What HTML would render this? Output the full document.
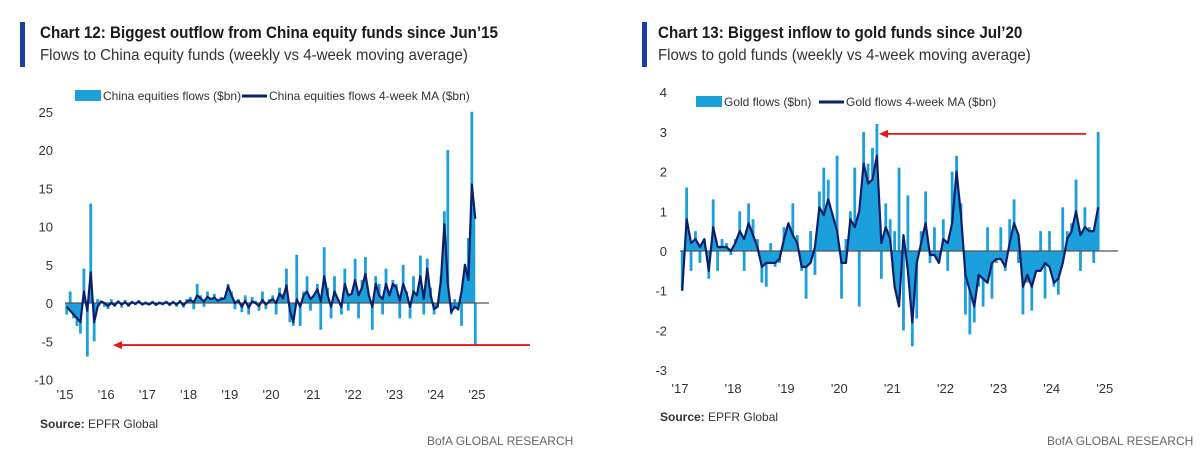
<!DOCTYPE html>
<html><head><meta charset="utf-8"><style>
body{margin:0;width:1200px;height:454px;background:#fff;font-family:"Liberation Sans",sans-serif;overflow:hidden;position:relative}
.bar{position:absolute;width:5px;background:#1a3fa0;top:22px;height:45px}
.t{position:absolute;font-weight:bold;font-size:16.5px;color:#1a1a1a;transform:scaleX(0.92);transform-origin:left top;white-space:nowrap}
.s{position:absolute;font-size:15.5px;color:#333;transform:scaleX(0.97);transform-origin:left top;white-space:nowrap}
.src{position:absolute;font-size:12px;color:#333}
.bofa{position:absolute;font-size:12px;color:#666;top:434px}
svg{position:absolute;left:0;top:0}
</style></head><body>
<div class="bar" style="left:20px"></div>
<div class="t" style="left:40px;top:24px">Chart 12: Biggest outflow from China equity funds since Jun’15</div>
<div class="s" style="left:40px;top:47px">Flows to China equity funds (weekly vs 4-week moving average)</div>
<div class="bar" style="left:642px"></div>
<div class="t" style="left:658px;top:24px">Chart 13: Biggest inflow to gold funds since Jul’20</div>
<div class="s" style="left:658px;top:47px">Flows to gold funds (weekly vs 4-week moving average)</div>
<div class="src" style="left:40px;top:417px"><b>Source:</b> EPFR Global</div>
<div class="src" style="left:660px;top:410px"><b>Source:</b> EPFR Global</div>
<div class="bofa" style="left:427px">BofA GLOBAL RESEARCH</div>
<div class="bofa" style="left:1047px">BofA GLOBAL RESEARCH</div>
<svg width="1200" height="454" id="svg"></svg>
<script>
const chinaYears=["'15","'16","'17","'18","'19","'20","'21","'22","'23","'24","'25"];
const chinaTicks=[25,20,15,10,5,0,-5,-10];
const chinaFlows=[-1.5,1.5,-2,-3,-4,4.5,-7,13,-5,0.5,0.3,-0.5,
-0.8,0.5,-0.5,0.3,-0.6,0.4,-0.5,0.3,-0.3,0.4,-0.3,0.2,
-0.3,0.3,-0.4,0.2,-0.3,0.3,-0.4,0.3,-0.5,0.4,-0.6,0.5,
0.8,-0.8,2.5,1.0,-0.5,1.5,0.6,1.2,0.3,0.8,0.5,2.5,
1.5,-0.8,0.5,-1.2,1.0,-1.5,0.8,0.3,-1.0,1.5,-0.8,0.5,
1.0,-1.5,2.0,1.2,4.5,-2.5,-3,6.3,-3,1.5,3.5,-1.0,
1.0,2.5,-3.5,7.3,2.0,-2.0,3.5,0.5,-1.5,4.5,-1.0,1.0,
5.8,-2.0,3.0,6.0,1.0,-3.5,3.5,2.5,-1.5,4.5,0.5,3.0,
2.5,-2.0,5.0,1.5,-2.0,3.5,1.0,6.2,-1.5,5.8,2.0,-1.5,
-0.5,3.5,12,20,-1.5,0.5,-1.0,-3.0,5.0,8.5,25,-5.5];
const chinaMA=[-0.5,-1,-1.5,-2,-2.5,1.5,-1,4,-2.5,-0.5,0.2,0,
-0.4,0,-0.3,0.2,-0.2,0.1,-0.3,0.1,-0.1,0.2,-0.2,0,
-0.2,0.1,-0.2,0,-0.1,0.1,-0.2,0.1,-0.2,0.2,-0.3,0.2,
0.4,0.1,1.0,0.6,0.2,0.8,0.5,0.7,0.3,0.5,0.6,2.2,
1.0,0,0.3,-0.5,0.3,-0.6,0.2,0,-0.4,0.4,-0.2,0.2,
0.5,0,1.2,0.6,2.3,-1.0,-2.5,0.5,-0.5,1.0,1.5,0.5,
1.0,1.8,0.2,3.5,1.0,-0.5,1.5,0.5,-0.5,2.5,1.0,1.2,
3.0,1.0,2.0,3.8,1.0,-0.5,2.5,1.0,0.5,2.5,1.0,2.5,
2.0,0.3,2.5,1.2,-0.5,1.5,1.0,3.5,0.5,4.5,1.0,-0.8,
-0.5,3.0,10.3,2.5,-1.2,-0.5,-0.8,1.5,5.0,3.0,15.5,11];
const goldYears=["'17","'18","'19","'20","'21","'22","'23","'24","'25"];
const goldTicks=[4,3,2,1,0,-1,-2,-3];
const goldFlows=[-1.0,1.6,-0.5,0.5,-0.3,0.3,-0.7,1.3,-0.5,0.3,0.2,-0.1,
0.3,1.0,-0.5,1.2,0.8,0.3,-0.8,-0.9,0.2,-0.4,-0.3,0.6,
0.5,1.2,0.4,-0.5,-1.2,0.5,-0.6,1.5,2.1,1.8,0.8,2.4,
-1.2,0.3,1.0,2.1,-1.4,3.0,2.2,2.6,3.2,-0.7,1.2,0.8,
0.5,2.1,-2.0,1.4,-2.4,-1.7,0.5,1.5,-0.3,0.6,-0.3,0.8,
-0.5,2.0,2.4,1.2,-1.6,-2.1,-1.8,-0.9,-1.4,0.6,-1.2,-0.3,
0.6,-0.5,0.8,1.3,-0.3,-1.6,-0.8,-1.5,-0.2,0.5,-1.2,0.5,
-0.9,-1.1,1.1,0.5,0.7,1.8,-0.5,1.1,0.6,-0.3,3.0];
const goldMA=[-1.0,0.8,0.2,0.3,0.1,0.3,-0.5,0.6,0.1,0.1,0.1,0.0,
0.2,0.5,0.3,0.7,0.4,0.1,-0.4,-0.3,-0.3,-0.3,-0.2,0.3,
0.7,0.4,0.2,-0.4,-0.4,-0.3,0.1,1.1,0.9,1.3,0.9,0.5,
-0.3,-0.3,0.8,0.6,1.0,2.2,1.7,1.8,2.4,0.2,0.6,0.3,
-0.9,-1.4,0.4,-0.5,-1.8,-0.3,0.2,0.7,-0.1,-0.1,-0.3,0.3,
0.2,0.7,2.0,0.9,-0.6,-1.0,-1.4,-0.6,-0.7,-0.8,-0.3,-0.2,
-0.2,-0.4,0.2,0.7,0.4,-0.9,-0.6,-0.9,-0.5,-0.5,-0.3,-0.4,
-0.8,-0.7,-0.3,0.3,0.5,1.0,0.4,0.6,0.5,0.5,1.1];

const svg=document.getElementById('svg');
const NS='http://www.w3.org/2000/svg';
function mk(tag,attrs,txt){const e=document.createElementNS(NS,tag);for(const k in attrs)e.setAttribute(k,attrs[k]);if(txt!==undefined)e.textContent=txt;svg.appendChild(e);return e;}

function chart(c){
  const y=v=>c.zeroY-v*c.pxU;
  const xi=i=>c.x0+(i+0.5)*c.pxY/12;
  c.ticks.forEach(t=>{
    const e=mk('text',{x:c.tickX,y:y(t)+5,'text-anchor':'end','font-size':13,fill:'#333'},String(t));
    
    
  });
  c.years.forEach((l,i)=>{
    const e=mk('text',{x:c.x0+i*c.pxY,y:c.labY,'text-anchor':'middle','font-size':13,fill:'#333'},l);
    
    
  });
  let d='M'+xi(0)+','+y(0);
  c.ma.forEach((v,i)=>{d+=' L'+xi(i)+','+y(v);});
  d+=' L'+xi(c.ma.length-1)+','+y(0)+' Z';
  const a=mk('path',{d:d,fill:'#1ba0dc'});
  
  
  c.flows.forEach((v,i)=>{
    const r=mk('rect',{x:xi(i)-1.4,y:Math.min(y(v),y(0)),width:2.8,height:Math.abs(y(v)-y(0)),fill:'#1ba0dc'});
    
    
  });
  const z=mk('line',{x1:c.x0,x2:c.xEnd,y1:y(0),y2:y(0),stroke:'#555','stroke-width':1.2});
  
  
  const p=mk('polyline',{points:c.ma.map((v,i)=>xi(i)+','+y(v)).join(' '),fill:'none',stroke:'#0c1f6b','stroke-width':2.2,'stroke-linejoin':'round'});
  
  
  const sw=mk('rect',{x:c.legX,y:c.legY-6,width:26,height:11,fill:'#1ba0dc'});
  
  
  const lt=mk('text',{x:c.legX+28,y:c.legY+4,'font-size':12,fill:'#333'},c.leg1);
  
  
  const ll=mk('line',{x1:c.legX2,x2:c.legX2+25,y1:c.legY,y2:c.legY,stroke:'#0c1f6b','stroke-width':3});
  
  
  const lt2=mk('text',{x:c.legX2+27,y:c.legY+4,'font-size':12,fill:'#333'},c.leg2);
  
  
  const ay=y(c.arrowV);
  const ar=mk('line',{x1:c.arrowFrom,x2:c.arrowTo+8,y1:ay,y2:ay,stroke:'#e8141c','stroke-width':1.8});
  
  
  const ah=mk('polygon',{points:`${c.arrowTo},${ay} ${c.arrowTo+9},${ay-4} ${c.arrowTo+9},${ay+4}`,fill:'#e8141c'});
  
  
}
chart({years:chinaYears,ticks:chinaTicks,flows:chinaFlows,ma:chinaMA,x0:65,pxY:41.2,zeroY:303,pxU:7.65,tickX:53,labY:399,xEnd:489,
  legX:75,legX2:242,legY:96,leg1:'China equities flows ($bn)',leg2:'China equities flows 4-week MA ($bn)',arrowV:-5.5,arrowFrom:530,arrowTo:113});
chart({years:goldYears,ticks:goldTicks,flows:goldFlows,ma:goldMA,x0:680,pxY:53.1,zeroY:251,pxU:39.7,tickX:667,labY:393,xEnd:1118,
  legX:696,legX2:819,legY:102,leg1:'Gold flows ($bn)',leg2:'Gold flows 4-week MA ($bn)',arrowV:2.95,arrowFrom:1086,arrowTo:879});
</script>
</body></html>
